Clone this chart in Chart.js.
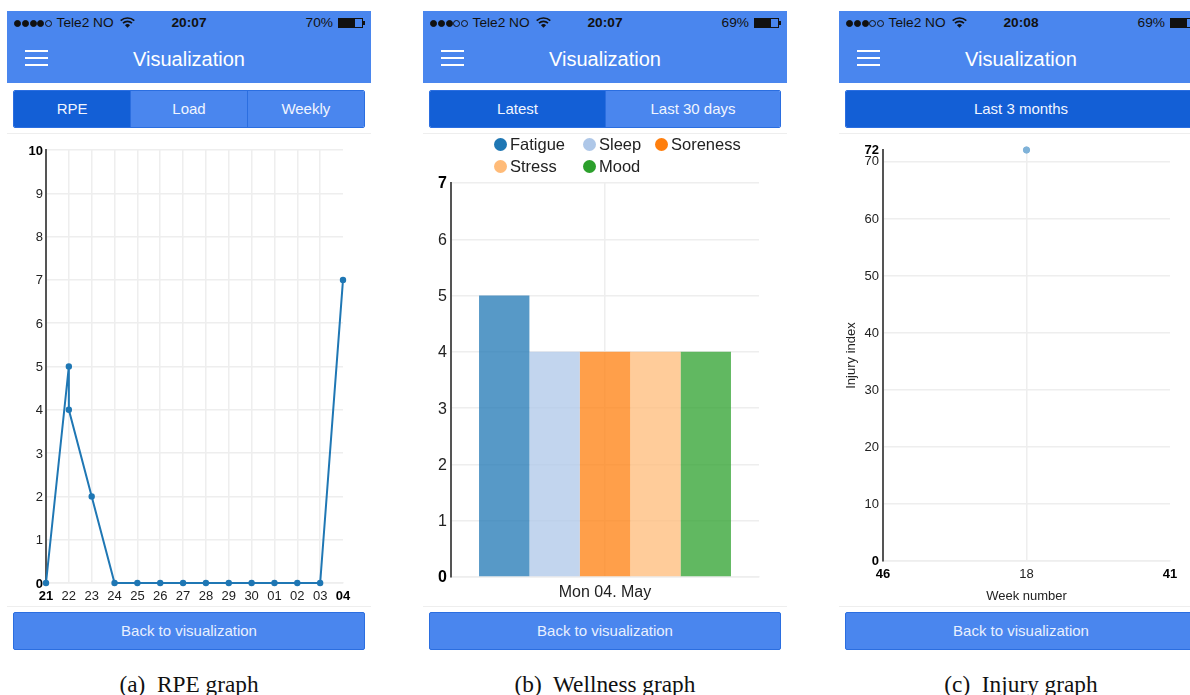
<!DOCTYPE html>
<html>
<head>
<meta charset="utf-8">
<script src="https://cdn.jsdelivr.net/npm/chart.js@4"></script>
<style>
html, body { margin: 0; padding: 0; background: #fff; }
body { position: relative; width: 1190px; height: 695px; overflow: hidden; font-family: "Liberation Sans", Arial, sans-serif; }
.phone { position: absolute; top: 11px; width: 364px; height: 640px; }
.head { position: absolute; left: 0; top: 0; width: 364px; height: 72px; background: #4a86ee; }
.status { position: absolute; top: 4px; font-size: 13.7px; line-height: 16px; color: #111; white-space: nowrap; }
.dots { left: 7px; letter-spacing: 0; }
.dots i { display: inline-block; width: 7px; height: 7px; border-radius: 50%; margin-right: 0.8px; border: 0.8px solid #111; box-sizing: border-box; vertical-align: 0; }
.dots i.on { background: #111; }
.clock { left: 0; width: 364px; text-align: center; font-weight: bold; }
.cell { position: absolute; left: 331px; top: 7px; width: 25px; height: 10px; border: 1px solid #111; box-sizing: border-box; }
.cell b { display: block; height: 100%; background: #111; }
.cell:after { content: ""; position: absolute; right: -3px; top: 2px; width: 2px; height: 4px; background: #111; }
.wifi { position: absolute; left: 113px; top: 6px; }
.burger { position: absolute; left: 18px; top: 39px; width: 23px; }
.burger i { display: block; height: 2.4px; background: #fff; margin-bottom: 4.6px; }
.title { position: absolute; left: 0; top: 36px; width: 364px; text-align: center; color: #fff; font-size: 20px; line-height: 24px; }
.tabs { position: absolute; left: 6px; top: 79px; width: 352px; height: 38px; display: flex; border-radius: 2px; overflow: hidden; box-sizing: border-box; border: 1px solid #2b6ee0; }
.tabs div { height: 100%; color: #f0f5ff; background: #4a86ee; font-size: 15px; line-height: 36px; text-align: center; border-left: 1px solid #2b6ee0; box-sizing: border-box; }
.tabs div.active { background: #135fd6; }
.tabs div:first-child { border-left: 0; }
.rule { position: absolute; left: 0; width: 364px; height: 1px; background: #eee; }
.back { position: absolute; left: 6px; top: 601px; width: 352px; height: 38px; box-sizing: border-box; border: 1px solid #2b6ee0; border-radius: 2px; background: #4a86ee; color: #e8f0ff; font-size: 15px; line-height: 36px; text-align: center; }
canvas { position: absolute; left: 0; top: 123px; }
.legend { position: absolute; left: 71px; top: 122px; display: grid; grid-template-columns: 89px 72px 90px; grid-auto-rows: 22px; font-size: 16.5px; color: #222; }
.legend span { display: flex; align-items: center; white-space: nowrap; }
.legend i { width: 13px; height: 13px; border-radius: 50%; margin-right: 3px; }
.caption { position: absolute; top: 672px; font-family: "Liberation Serif", serif; font-size: 23.3px; line-height: 24px; color: #111; text-align: center; white-space: pre; }
</style>
</head>
<body>
<script>
// RPE graph
const rpeDays = ['21', '22', '23', '24', '25', '26', '27', '28', '29', '30', '01', '02', '03', '04'];
const rpeX = [0, 1, 1, 2, 3, 4, 5, 6, 7, 8, 9, 10, 11, 12, 13];
const rpeValues = [0, 5, 4, 2, 0, 0, 0, 0, 0, 0, 0, 0, 0, 0, 7];

// Wellness graph
const wellnessDay = ['Mon 04. May'];
const wellnessNames = ['Fatigue', 'Sleep', 'Soreness', 'Stress', 'Mood'];
const wellnessValues = [5, 4, 4, 4, 4];
const wellnessColors = ['#1f77b4', '#aec7e8', '#ff7f0e', '#ffbb78', '#2ca02c'];

// Injury graph
const injuryWeeks = ['46', '18', '41'];
const injuryValues = [null, 72, null];
const injuryTicks = [0, 10, 20, 30, 40, 50, 60, 70, 72];

const phones = [
  { left: 7, bars: 4, time: '20:07', batt: '70%', level: 70, tabs: [['RPE', 117], ['Load', 117], ['Weekly', 118]], caption: '(a)  RPE graph', capLeft: 189 },
  { left: 423, bars: 3, time: '20:07', batt: '69%', level: 69, tabs: [['Latest', 176], ['Last 30 days', 176]], caption: '(b)  Wellness graph', capLeft: 605 },
  { left: 839, bars: 3, time: '20:08', batt: '69%', level: 69, tabs: [['Last 3 months', 352]], caption: '(c)  Injury graph', capLeft: 1021 }
];

const GRID = '#eeeeee';
const AXIS = '#555';
const TEXT = '#222';

const canvases = phones.map(p => {
  const el = document.createElement('div');
  el.className = 'phone';
  el.style.left = p.left + 'px';
  let dots = '';
  for (let i = 0; i < 5; i++) dots += '<i class="' + (i < p.bars ? 'on' : '') + '"></i>';
  el.innerHTML =
    '<div class="head">' +
      '<div class="status dots">' + dots + ' Tele2 NO</div>' +
      '<svg class="wifi" width="15" height="11" viewBox="0 0 15 11"><path d="M0.7 3.7 A10 10 0 0 1 14.3 3.7 M3 6.2 A6.5 6.5 0 0 1 12 6.2" fill="none" stroke="#111" stroke-width="1.6"/><path d="M7.5 10.8 L5 8.2 A3.4 3.4 0 0 1 10 8.2 Z" fill="#111"/></svg>' +
      '<div class="status clock">' + p.time + '</div>' +
      '<div class="status batt" style="right:38px">' + p.batt + '</div>' +
      '<div class="cell"><b style="width:' + p.level + '%"></b></div>' +
      '<div class="burger"><i></i><i></i><i></i></div>' +
      '<div class="title">Visualization</div>' +
    '</div>' +
    '<div class="tabs">' + p.tabs.map((t, i) => '<div class="' + (i === 0 ? 'active' : '') + '" style="width:' + t[1] + 'px">' + t[0] + '</div>').join('') + '</div>' +
    '<div class="rule" style="top:122px"></div>' +
    '<div class="rule" style="top:595px"></div>' +
    '<div class="back">Back to visualization</div>';
  const canvas = document.createElement('canvas');
  canvas.width = 364;
  canvas.height = 472;
  el.appendChild(canvas);
  document.body.appendChild(el);

  const cap = document.createElement('div');
  cap.className = 'caption';
  cap.style.left = (p.capLeft - 150) + 'px';
  cap.style.width = '300px';
  cap.textContent = p.caption;
  document.body.appendChild(cap);
  return canvas;
});

// nvd3 style legend for the wellness chart
const legend = document.createElement('div');
legend.className = 'legend';
wellnessNames.forEach((name, i) => {
  const s = document.createElement('span');
  s.innerHTML = '<i style="background:' + wellnessColors[i] + '"></i>' + name;
  legend.appendChild(s);
});
canvases[1].parentNode.appendChild(legend);

const boldEnds = (size, last) => ctx => ({ size: size, family: '"Liberation Sans"', weight: (ctx.index === 0 || ctx.index === last) ? 'bold' : 'normal' });
const endColor = (last) => ctx => (ctx.index === 0 || ctx.index === last) ? '#000' : TEXT;
const fixHeight = h => scale => { scale.height = h; };
const fixWidth = w => scale => { scale.width = w; };

new Chart(canvases[0], {
  type: 'line',
  data: {
    datasets: [{
      data: rpeX.map((x, i) => ({ x: x, y: rpeValues[i] })),
      borderColor: '#1f77b4',
      backgroundColor: '#1f77b4',
      borderWidth: 2,
      pointRadius: 2.2,
      tension: 0,
      clip: false
    }]
  },
  options: {
    responsive: false,
    animation: false,
    layout: { padding: { top: 16, right: 28 } },
    plugins: { legend: { display: false }, tooltip: { enabled: false } },
    scales: {
      x: {
        type: 'linear',
        min: 0,
        max: rpeDays.length - 1,
        afterFit: fixHeight(23),
        grid: { color: ctx => ctx.index === rpeDays.length - 1 ? 'transparent' : GRID, drawTicks: false, lineWidth: 1.5 },
        border: { color: GRID, width: 1.5 },
        ticks: {
          stepSize: 1,
          autoSkip: false,
          maxRotation: 0,
          padding: 6,
          callback: v => rpeDays[v],
          font: boldEnds(13, rpeDays.length - 1),
          color: endColor(rpeDays.length - 1)
        }
      },
      y: {
        min: 0,
        max: 10,
        afterFit: fixWidth(39),
        grid: { color: GRID, drawTicks: false, lineWidth: 1.5 },
        border: { color: AXIS, width: 2 },
        ticks: { stepSize: 1, padding: 3, labelOffset: 1, font: boldEnds(13, 10), color: endColor(10) }
      }
    }
  }
});

new Chart(canvases[1], {
  type: 'bar',
  data: {
    labels: wellnessDay,
    datasets: wellnessNames.map((name, i) => ({
      label: name,
      data: [wellnessValues[i]],
      backgroundColor: wellnessColors[i] + 'bf',
      borderWidth: 0,
      categoryPercentage: 0.818,
      barPercentage: 1
    }))
  },
  options: {
    responsive: false,
    animation: false,
    layout: { padding: { top: 49, right: 28 } },
    plugins: { legend: { display: false }, tooltip: { enabled: false } },
    scales: {
      x: {
        afterFit: fixHeight(29),
        grid: { offset: false, color: GRID, drawTicks: false, lineWidth: 1.5 },
        border: { color: GRID, width: 1.5 },
        ticks: { padding: 6, font: { size: 16, family: '"Liberation Sans"' }, color: TEXT }
      },
      y: {
        min: 0,
        max: 7,
        afterFit: fixWidth(28),
        grid: { color: GRID, drawTicks: false, lineWidth: 1.5 },
        border: { color: AXIS, width: 2 },
        ticks: { stepSize: 1, padding: 4, labelOffset: 1, font: boldEnds(16, 7), color: endColor(7) }
      }
    }
  }
});

new Chart(canvases[2], {
  type: 'line',
  data: {
    labels: injuryWeeks,
    datasets: [{
      data: injuryValues,
      borderColor: '#7fb2d8',
      backgroundColor: '#7fb2d8',
      pointRadius: 3.2,
      clip: false
    }]
  },
  options: {
    responsive: false,
    animation: false,
    layout: { padding: { top: 16, right: 33 } },
    plugins: { legend: { display: false }, tooltip: { enabled: false } },
    scales: {
      x: {
        afterFit: fixHeight(45),
        grid: { color: ctx => ctx.index === 1 ? GRID : 'transparent', drawTicks: false, lineWidth: 1.5 },
        border: { color: GRID, width: 1.5 },
        title: { display: true, text: 'Week number', font: { size: 13, family: '"Liberation Sans"' }, color: TEXT, padding: { top: 2, bottom: 2 } },
        ticks: { autoSkip: false, maxRotation: 0, padding: 6, font: boldEnds(13, 2), color: endColor(2) }
      },
      y: {
        min: 0,
        max: 72,
        afterBuildTicks: scale => { scale.ticks = injuryTicks.map(v => ({ value: v })); },
        afterFit: fixWidth(44),
        grid: { color: ctx => ctx.index === injuryTicks.length - 1 ? 'transparent' : GRID, drawTicks: false, lineWidth: 1.5 },
        border: { color: AXIS, width: 2 },
        title: { display: true, text: 'Injury index', font: { size: 13, family: '"Liberation Sans"' }, color: TEXT, padding: { top: 5, bottom: 2 } },
        ticks: { autoSkip: false, padding: 4, labelOffset: 0.5, font: boldEnds(13, injuryTicks.length - 1), color: endColor(injuryTicks.length - 1) }
      }
    }
  }
});
</script>
</body>
</html>
